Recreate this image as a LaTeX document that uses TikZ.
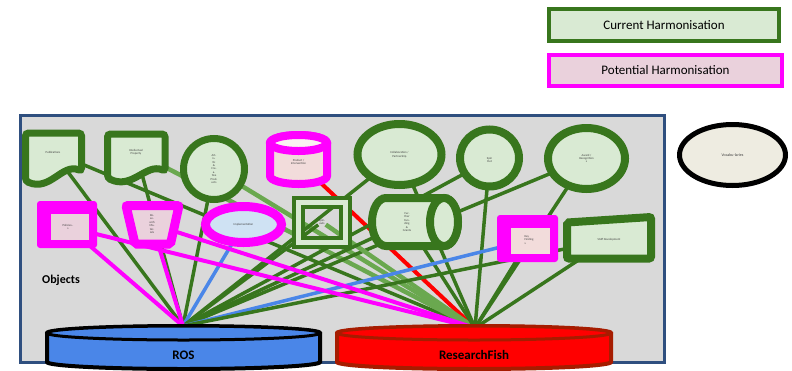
\documentclass[tikz,border=0pt]{standalone}
\usepackage{fontspec}
\setmainfont{Carlito}
\usetikzlibrary{shapes.geometric}
\pgfdeclarelayer{bg}
\pgfdeclarelayer{lines}
\pgfsetlayers{bg,lines,main}
\definecolor{dg}{HTML}{38761D}
\definecolor{lg}{HTML}{D9EAD3}
\definecolor{mg}{HTML}{FF00FF}
\definecolor{pk}{HTML}{EAD1DC}
\definecolor{pkb}{HTML}{F2DCDB}
\definecolor{lgl}{HTML}{6AA84F}
\definecolor{bl}{HTML}{4A86E8}
\definecolor{lb}{HTML}{CFE2F3}
\definecolor{bgc}{HTML}{D9D9D9}
\definecolor{navy}{HTML}{2F4F7F}
\definecolor{rfb}{HTML}{A61C00}
\definecolor{voc}{HTML}{EEECE1}
\begin{document}
\begin{tikzpicture}[x=1pt,y=-1pt,
  tinyt/.style={font=\fontsize{3}{3.4}\selectfont, align=center, inner sep=0.5pt, text=black!75},
  gshape/.style={draw=dg, fill=lg, line width=7pt},
  pshape/.style={draw=mg, fill=pk, line width=9pt},
  cur/.style={dg, line width=3.5pt},
  curl/.style={lgl, line width=4.5pt},
  pot/.style={mg, line width=4pt},
  blu/.style={bl, line width=3.5pt},
  redl/.style={red, line width=4pt},
  legtext/.style={font=\fontsize{13}{15}\selectfont},
  biglabel/.style={font=\fontsize{13}{15}\selectfont\bfseries}]

\useasboundingbox (0,0) rectangle (792,370);

% background and container
\begin{pgfonlayer}{bg}
\fill[white] (0,0) rectangle (792,370);
\draw[navy, fill=bgc, line width=3pt] (20,115) rectangle (664,362);
\end{pgfonlayer}

% legend
\node[draw=dg, fill=lg, line width=3.5pt, minimum width=230pt, minimum height=32pt, legtext] (curleg) at (664,25) {Current Harmonisation};
\node[draw=mg, fill=pk, line width=4pt, minimum width=233pt, minimum height=31pt, legtext] (potleg) at (665.5,70.5) {Potential Harmonisation};

\node[font=\fontsize{12}{14}\selectfont\bfseries] (objlbl) at (61,280) {Objects};

% vocabularies
\draw[black, fill=voc, line width=5pt] (732.5,155) ellipse [x radius=53, y radius=30.5];
\node[tinyt, font=\fontsize{4}{5}\selectfont] (voc) at (732.5,155) {Vocabu-laries};

% 1 document
\draw[gshape, rounded corners=3pt] (25.5,133) -- (81.5,133) -- (81.5,171) .. controls (62,163) and (50,192) .. (25.5,181) -- cycle;
% 2 document
\draw[gshape, rounded corners=3pt] (107.5,134) -- (165,134) -- (165,171) .. controls (146,163) and (132,190) .. (107.5,178) -- cycle;
% 3 circle
\draw[gshape] (214,169) ellipse [x radius=30.5, y radius=30.5];
% 4 pink cylinder
\draw[draw=mg, fill=pkb, line width=8pt] (270,143) -- (270,176) arc[start angle=180, end angle=0, x radius=28.5, y radius=8] -- (327,143) arc[start angle=0, end angle=-180, x radius=28.5, y radius=8] -- cycle;
\draw[draw=mg, fill=white!60!pkb, line width=8pt] (298.5,143) ellipse [x radius=28.5, y radius=8];
% 5 ellipse
\draw[gshape, line width=8pt] (399.5,154.5) ellipse [x radius=42, y radius=30.5];
% 6 circle
\draw[gshape, line width=8pt] (489.5,158) ellipse [x radius=29.5, y radius=28.5];
% 7 ellipse
\draw[gshape, line width=8pt] (586.5,158.5) ellipse [x radius=38.5, y radius=30.5];
% 8 pink rect
\fill[mg, rounded corners=3pt] (37,201) rectangle (97,248);
\fill[pk] (51,214) rectangle (89,240);
% 9 trapezoid
\draw[pshape, rounded corners=2pt] (126,205.5) -- (179,205.5) -- (170.5,244) -- (135,244) -- cycle;
% 10 ellipse
\draw[draw=mg, fill=lb, line width=9pt] (243.5,224.5) ellipse [x radius=38, y radius=18];
% 11 double square
\draw[draw=dg, double=lg, double distance=5pt, line width=4pt] (298.5,202.5) rectangle (345.5,242.5);
% 12 horizontal cylinder
\draw[gshape, line width=8pt] (444,198) -- (386,198) arc[start angle=270, end angle=90, x radius=14, y radius=24] -- (444,246) arc[start angle=90, end angle=-90, x radius=14, y radius=24] -- cycle;
\draw[gshape, line width=8pt] (444,222) ellipse [x radius=14, y radius=24];
% 13 pink rect
\fill[mg, rounded corners=3pt] (497,215) rectangle (558,262);
\fill[pkb] (511,228) rectangle (550,254);
% 14 staff development
\draw[gshape, line width=8pt, rounded corners=2pt] (567,222.5) -- (651,217) -- (651,258.5) -- (567,258.5) -- cycle;

% text nodes
\node[tinyt] (o1) at (53,152) {Publications};
\node[tinyt] (o2) at (136,152) {Intellectual\\Property};
\node[tinyt] (o3) at (214,169) {Art-\\is-\\tic\\\&\\Cre-\\a-\\tive\\Prod-\\ucts};
\node[tinyt] (o4) at (298.5,162) {Product /\\Intervention};
\node[tinyt] (o5) at (399.5,154.5) {Collaboration /\\Partnership};
\node[tinyt] (o6) at (489.5,160) {Spin\\Out};
\node[tinyt] (o7) at (586.5,158.5) {Award /\\Recognition\\s};
\node[tinyt] (o8) at (68,227) {Policies -\\s};
\node[tinyt] (o9) at (152,224) {Re-\\se-\\arch\\Ma-\\ter-\\ials};
\node[tinyt] (o10) at (243.5,224.5) {Implementation};
\node[tinyt] (o11) at (322,222) {Spin-\\outs};
\node[tinyt] (o12) at (407,222) {Fur-\\ther\\Fun-\\ding\\\&\\Grants};
\node[tinyt, align=left] (o13) at (529,240) {Key\\Finding\\s};
\node[tinyt] (o14) at (609,240) {Staff Development};

% databases
\draw[draw=black, fill=bl, line width=4pt] (47,333) -- (47,362) arc[start angle=180, end angle=0, x radius=136.5, y radius=7] -- (320,333) arc[start angle=0, end angle=-180, x radius=136.5, y radius=7] -- cycle;
\draw[draw=black, fill=bl, line width=3pt] (183.5,333) ellipse [x radius=136.5, y radius=7];
\draw[draw=rfb, fill=red, line width=4pt] (337,333) -- (337,362) arc[start angle=180, end angle=0, x radius=137, y radius=7] -- (611,333) arc[start angle=0, end angle=-180, x radius=137, y radius=7] -- cycle;
\draw[draw=rfb, fill=red, line width=3pt] (474,333) ellipse [x radius=137, y radius=7];
\node[biglabel] (ros) at (183.5,355) {ROS};
\node[biglabel] (rf) at (474,355) {ResearchFish};
\coordinate (rosHub) at (183,326);
\coordinate (rfHub) at (475,328);

% connectors
\begin{pgfonlayer}{lines}
\draw[cur] (o1) -- (rosHub);
\draw[cur] (o1) -- (rfHub);
\draw[cur] (o2) -- (rosHub);
\draw[curl] (o2) -- (rfHub);
\draw[cur] (o3) -- (rosHub);
\draw[curl] (o3) -- (rfHub);
\draw[redl] (o4) -- (rfHub);
\draw[cur] (o5) -- (rosHub);
\draw[cur] (o5) -- (rfHub);
\draw[cur] (o6) -- (rosHub);
\draw[cur] (o6) -- (rfHub);
\draw[cur] (o7) -- (rosHub);
\draw[cur] (o7) -- (rfHub);
\draw[blu] (o10) -- (rosHub);
\draw[cur] (o11) -- (rosHub);
\draw[curl] (o11) -- (rfHub);
\draw[cur] (o12) -- (rosHub);
\draw[cur] (o12) -- (rfHub);
\draw[blu] (o13) -- (rosHub);
\draw[cur] (o13) -- (rfHub);
\draw[cur] (o14) -- (rosHub);
\draw[cur] (o14) -- (rfHub);
\draw[pot] (o8) -- (rosHub);
\draw[pot] (o8) -- (rfHub);
\draw[pot] (o9) -- (rosHub);
\draw[pot] (o9) -- (rfHub);
\end{pgfonlayer}
\end{tikzpicture}
\end{document}
